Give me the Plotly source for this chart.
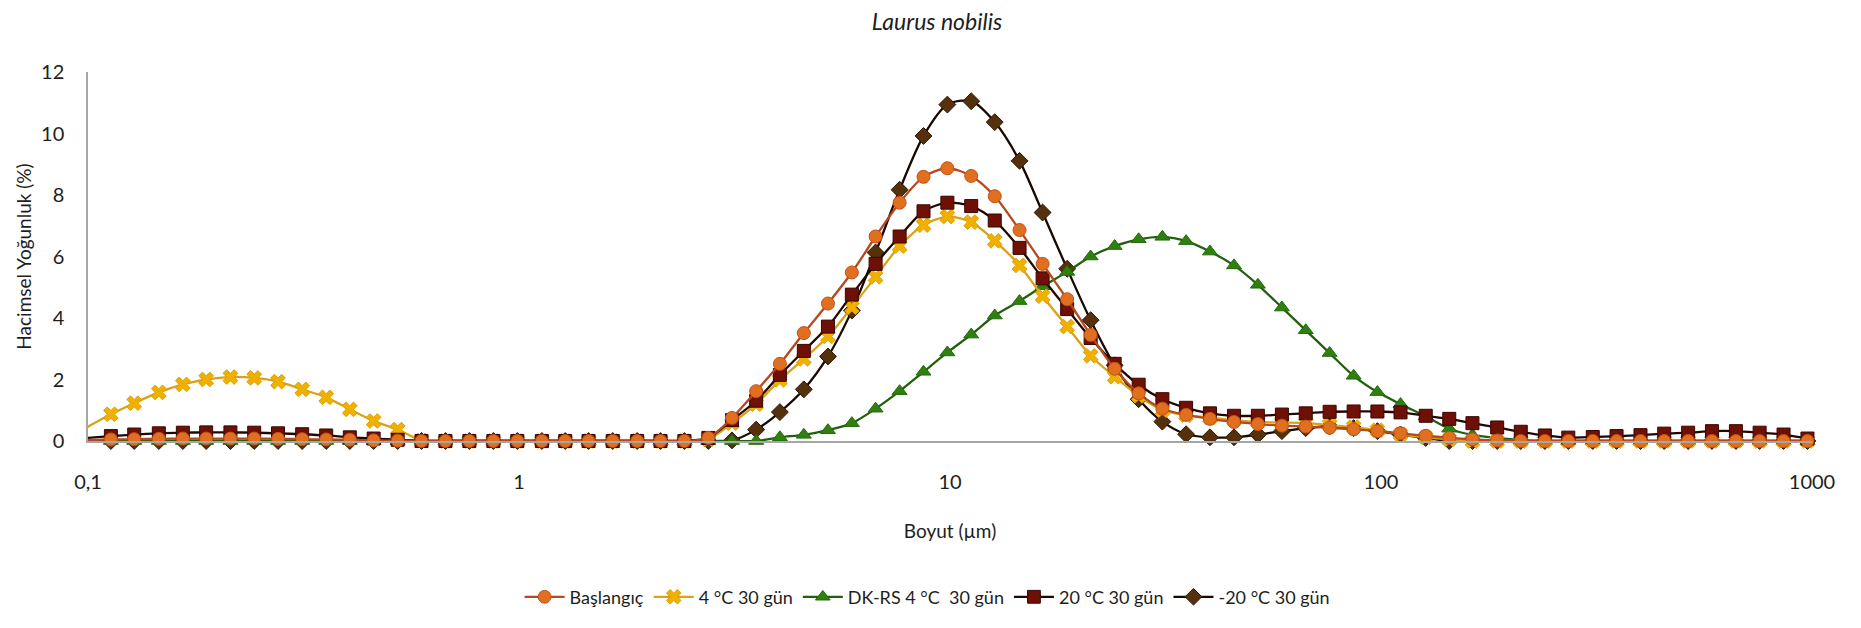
import plotly.graph_objects as go

# Particle size classes (µm)
sizes = [0.0995, 0.113, 0.128, 0.146, 0.166, 0.188, 0.214, 0.243, 0.276, 0.314,
         0.357, 0.405, 0.460, 0.523, 0.594, 0.675, 0.767, 0.872, 0.991, 1.13,
         1.28, 1.45, 1.65, 1.88, 2.13, 2.42, 2.75, 3.12, 3.55, 4.03,
         4.58, 5.21, 5.92, 6.72, 7.64, 8.68, 9.86, 11.2, 12.7, 14.5,
         16.4, 18.7, 21.2, 24.1, 27.4, 31.1, 35.3, 40.1, 45.6, 51.8,
         58.9, 66.9, 76.0, 86.4, 98.1, 111, 127, 144, 163, 186,
         211, 240, 272, 310, 352, 400, 454, 516, 586, 666,
         756, 859, 976]

baslangic = [0.03, 0.05, 0.06, 0.07, 0.08, 0.08, 0.08, 0.08, 0.07, 0.06, 0.05, 0.04, 0.02, 0.01,
             0, 0, 0, 0, 0, 0, 0, 0, 0, 0, 0, 0,
             0.10, 0.75, 1.62, 2.51, 3.51, 4.47, 5.48, 6.65, 7.75, 8.59, 8.87, 8.62, 7.96, 6.86,
             5.76, 4.61, 3.45, 2.35, 1.55, 1.05, 0.85, 0.72, 0.62, 0.55, 0.50, 0.47, 0.43, 0.38,
             0.32, 0.25, 0.17, 0.10, 0.05, 0.02,
             0, 0, 0, 0, 0, 0, 0, 0, 0, 0, 0, 0, 0]

gun4 = [0.45, 0.87, 1.23, 1.58, 1.84, 2.00, 2.08, 2.05, 1.93, 1.68, 1.42, 1.03, 0.65, 0.37, 0.02,
        0, 0, 0, 0, 0, 0, 0, 0, 0, 0, 0,
        0.05, 0.58, 1.20, 1.99, 2.67, 3.40, 4.35, 5.34, 6.34, 7.02, 7.30, 7.12, 6.51, 5.71,
        4.71, 3.72, 2.77, 2.09, 1.47, 1.00, 0.84, 0.76, 0.68, 0.62, 0.60, 0.58, 0.52, 0.45,
        0.35, 0.22, 0.12, 0.05,
        0, 0, 0, 0, 0, 0, 0, 0, 0, 0, 0, 0, 0, 0, 0]

dkrs = [0, 0, 0, 0, 0, 0, 0, 0, 0, 0, 0, 0, 0, 0, 0, 0, 0, 0, 0, 0, 0, 0, 0, 0, 0, 0, 0, 0, 0,
        0.12, 0.20, 0.35, 0.58, 1.05, 1.62, 2.25, 2.88, 3.46, 4.08, 4.55, 5.03, 5.50, 6.00,
        6.34, 6.56, 6.64, 6.50, 6.16, 5.71, 5.08, 4.34, 3.60, 2.86, 2.12, 1.59, 1.20, 0.80,
        0.40, 0.20, 0.10, 0.03,
        0, 0, 0, 0, 0, 0, 0, 0, 0, 0, 0, 0]

gun20 = [0.10, 0.16, 0.21, 0.25, 0.27, 0.28, 0.28, 0.27, 0.25, 0.22, 0.18, 0.12, 0.08, 0.04,
         0, 0, 0, 0, 0, 0, 0, 0, 0, 0, 0, 0,
         0.10, 0.68, 1.31, 2.15, 2.93, 3.72, 4.76, 5.76, 6.65, 7.47, 7.75, 7.64, 7.17, 6.28,
         5.29, 4.29, 3.35, 2.51, 1.83, 1.36, 1.08, 0.90, 0.82, 0.82, 0.86, 0.90, 0.95, 0.96,
         0.96, 0.93, 0.82, 0.72, 0.58, 0.44, 0.30, 0.18, 0.11, 0.13, 0.16, 0.19, 0.24, 0.27,
         0.32, 0.32, 0.27, 0.21, 0.08]

eksi20 = [0, 0, 0, 0, 0, 0, 0, 0, 0, 0, 0, 0, 0, 0, 0, 0, 0, 0, 0, 0, 0, 0, 0, 0, 0, 0, 0,
          0.02, 0.37, 0.94, 1.68, 2.75, 4.24, 6.13, 8.17, 9.92, 10.94, 11.05, 10.37, 9.11,
          7.43, 5.60, 3.93, 2.46, 1.36, 0.63, 0.22, 0.12, 0.12, 0.21, 0.32, 0.42, 0.48, 0.42,
          0.32, 0.21, 0.10,
          0, 0, 0, 0, 0, 0, 0, 0, 0, 0, 0, 0, 0, 0, 0, 0]

names = ["Başlangıç", "4 °C 30 gün", "DK-RS 4 °C\u00a0 30 gün", "20 °C 30 gün", "-20 °C 30 gün"]
series = [baslangic, gun4, dkrs, gun20, eksi20]

x_tickvals = [0.1, 1, 10, 100, 1000]
x_ticktext = ["0,1", "1", "10", "100", "1000"]
y_tickvals = [0, 2, 4, 6, 8, 10, 12]

styles = [
    dict(line="#B5481E", marker="#E0701F", mline="#C0501A", symbol="circle", size=13),
    dict(line="#D9A21B", marker="#F0B000", mline="#E0A000", symbol="x", size=13),
    dict(line="#23600E", marker="#2F8010", mline="#246A0C", symbol="triangle-up", size=13),
    dict(line="#220804", marker="#6E1006", mline="#3A0602", symbol="square", size=13),
    dict(line="#180A00", marker="#55300C", mline="#301804", symbol="diamond", size=13),
]

# drawing order (bottom to top); legend order kept via legendrank
draw_order = [4, 2, 1, 3, 0]

FONT = "Lato, 'Open Sans', sans-serif"
fig = go.Figure()
for k in draw_order:
    name, ys, st = names[k], series[k], styles[k]
    msize = [0 if s < x_tickvals[0] else st["size"] for s in sizes]
    fig.add_trace(go.Scatter(
        x=sizes, y=ys, name=name, mode="lines+markers", legendrank=k + 1,
        line=dict(color=st["line"], width=2.3, shape="spline", smoothing=0.8),
        marker=dict(symbol=st["symbol"], size=msize, color=st["marker"], opacity=1,
                    line=dict(color=st["mline"], width=1)),
        cliponaxis=False,
    ))

fig.update_layout(
    width=1861, height=628,
    margin=dict(l=88, r=49, t=72, b=178),
    paper_bgcolor="white", plot_bgcolor="white",
    font=dict(family=FONT, color="#1E1E1E", size=16),
    title=dict(text="<i>Laurus nobilis</i>", x=0.5035, xanchor="center",
               y=0.965, yanchor="middle", font=dict(size=23, family=FONT)),
    legend=dict(orientation="h", x=0.487, xanchor="center", y=-0.423, yanchor="middle",
                font=dict(size=18, family=FONT), itemwidth=40, tracegroupgap=0,
                traceorder="normal"),
    showlegend=True,
)
fig.update_xaxes(
    type="log", range=[-1, 3], tickvals=x_tickvals, ticktext=x_ticktext,
    showgrid=False, zeroline=False, showline=True, linecolor="#A6A6A6", linewidth=2,
    ticks="", tickfont=dict(size=20), ticklabelstandoff=22,
    title=dict(text="Boyut (µm)", font=dict(size=19), standoff=33),
)
fig.update_yaxes(
    range=[0, 12], tickvals=y_tickvals, showgrid=False, zeroline=False,
    showline=True, linecolor="#A6A6A6", linewidth=1.5, ticks="",
    tickfont=dict(size=20), ticklabelstandoff=18,
    title=dict(text="Hacimsel Yoğunluk (%)", font=dict(size=19), standoff=4),
)

fig.write_html("out.html")
